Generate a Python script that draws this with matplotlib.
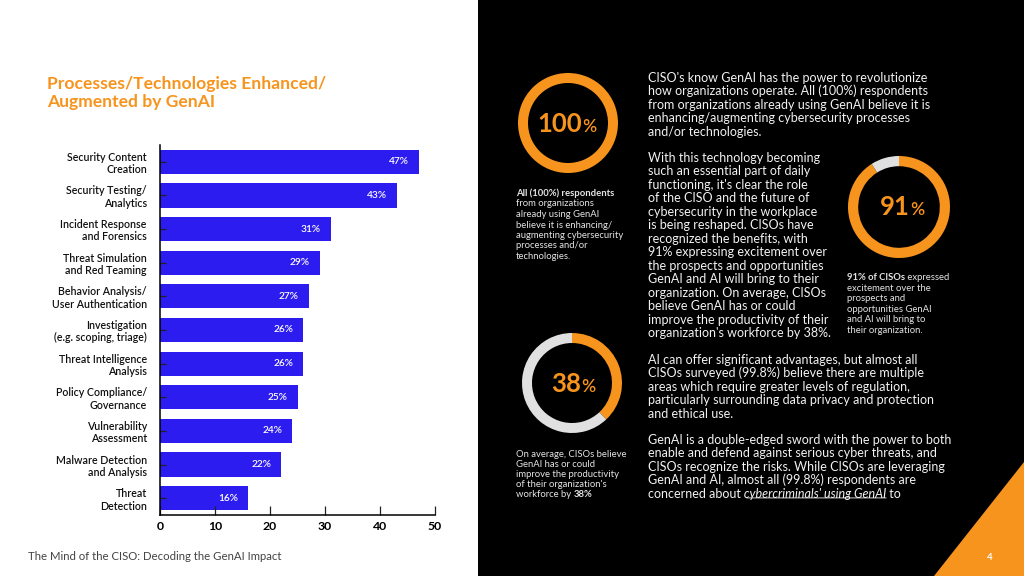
import matplotlib
matplotlib.use('Agg')
import matplotlib.pyplot as plt
from matplotlib.patches import Rectangle, Polygon

plt.rcParams['font.family'] = ['Lato', 'DejaVu Sans']

# データ
categories = ['Security Content\nCreation', 'Security Testing/\nAnalytics',
              'Incident Response\nand Forensics', 'Threat Simulation\nand Red Teaming',
              'Behavior Analysis/\nUser Authentication', 'Investigation\n(e.g. scoping, triage)',
              'Threat Intelligence\nAnalysis', 'Policy Compliance/\nGovernance',
              'Vulnerability\nAssessment', 'Malware Detection\nand Analysis', 'Threat\nDetection']
values = [47, 43, 31, 29, 27, 26, 26, 25, 24, 22, 16]
x_ticks = [0, 10, 20, 30, 40, 50]
donut_values = [100, 38, 91]

title = 'Processes/Technologies Enhanced/\nAugmented by GenAI'
footer = 'The Mind of the CISO: Decoding the GenAI Impact'
page_no = '4'

para1 = ["CISO's know GenAI has the power to revolutionize",
         "how organizations operate. All (100%) respondents",
         "from organizations already using GenAI believe it is",
         "enhancing/augmenting cybersecurity processes",
         "and/or technologies."]
para2 = ["With this technology becoming",
         "such an essential part of daily",
         "functioning, it's clear the role",
         "of the CISO and the future of",
         "cybersecurity in the workplace",
         "is being reshaped. CISOs have",
         "recognized the benefits, with",
         "91% expressing excitement over",
         "the prospects and opportunities",
         "GenAI and AI will bring to their",
         "organization. On average, CISOs",
         "believe GenAI has or could",
         "improve the productivity of their",
         "organization's workforce by 38%."]
para3 = ["AI can offer significant advantages, but almost all",
         "CISOs surveyed (99.8%) believe there are multiple",
         "areas which require greater levels of regulation,",
         "particularly surrounding data privacy and protection",
         "and ethical use."]
para4 = ["GenAI is a double-edged sword with the power to both",
         "enable and defend against serious cyber threats, and",
         "CISOs recognize the risks. While CISOs are leveraging",
         "GenAI and AI, almost all (99.8%) respondents are",
         [("concerned about", 'normal', 'normal', False),
          (" cybercriminals' using GenAI", 'normal', 'italic', True),
          (" to", 'normal', 'normal', False)]]
cap1 = [[("All (100%) respondents", 'bold', 'normal', False)],
        "from organizations", "already using GenAI", "believe it is enhancing/",
        "augmenting cybersecurity", "processes and/or", "technologies."]
cap2 = ["On average, CISOs believe", "GenAI has or could", "improve the productivity",
        "of their organization's",
        [("workforce by ", 'normal', 'normal', False), ("38%", 'bold', 'normal', False)]]
cap3 = [[("91% of CISOs", 'bold', 'normal', False), (" expressed", 'normal', 'normal', False)],
        "excitement over the", "prospects and", "opportunities GenAI",
        "and AI will bring to", "their organization."]

ORANGE = '#F7941D'
BLUE = '#2C1CF0'
GRAY = '#E0E0E0'
W, H = 1024, 576

fig = plt.figure(figsize=(W / 100, H / 100), dpi=100)
fig.patch.set_facecolor('white')

# 背景用のaxes（ピクセル座標）
bg = fig.add_axes([0, 0, 1, 1], zorder=0)
bg.set_xlim(0, W)
bg.set_ylim(H, 0)
bg.axis('off')
bg.add_patch(Rectangle((478, 0), W - 478, H, color='black', lw=0))
bg.add_patch(Polygon([(934, H), (W, H), (W, 462)], color=ORANGE, lw=0))

bg.text(47, 89, title.split('\n')[0], color=ORANGE, fontsize=12.6, fontweight='bold', va='baseline')
bg.text(47, 107, title.split('\n')[1], color=ORANGE, fontsize=12.6, fontweight='bold', va='baseline')
bg.text(28, 560, footer, color='#444444', fontsize=8.2, fontweight='normal', va='baseline')
bg.text(990, 560, page_no, color='white', fontsize=7, fontweight='bold', va='baseline', ha='center')


def draw_lines(lines, x, y0, step, size, color):
    for i, line in enumerate(lines):
        y = y0 + i * step
        if isinstance(line, str):
            bg.text(x, y, line, color=color, fontsize=size, fontweight='normal', va='baseline')
            continue
        prev = None
        for txt, wt, st, ul in line:
            if prev is None:
                t = bg.text(x, y, txt, color=color, fontsize=size, fontweight=wt,
                            fontstyle=st, va='baseline')
            else:
                t = bg.annotate(txt, xy=(1, 0), xycoords=prev, color=color, fontsize=size,
                                fontweight=wt, fontstyle=st, va='bottom', ha='left')
            if ul:
                bg.annotate('', xy=(0.04, 0.14), xycoords=t, xytext=(1, 0.14), textcoords=t,
                            arrowprops=dict(arrowstyle='-', color=color, lw=0.6,
                                            shrinkA=0, shrinkB=0))
            prev = t


TXT = '#F2F2F2'
draw_lines(para1, 648, 82, 13.45, 9.0, TXT)
draw_lines(para2, 648, 162, 13.46, 9.0, TXT)
draw_lines(para3, 648, 364, 13.4, 9.0, TXT)
draw_lines(para4, 648, 444, 13.4, 9.0, TXT)
draw_lines(cap1, 516, 196, 10.5, 6.8, '#E4E4E4')
draw_lines(cap2, 516, 457, 10.0, 6.8, '#E4E4E4')
draw_lines(cap3, 847, 280, 10.6, 6.8, '#E4E4E4')

# 棒グラフ
ax = fig.add_axes([160 / W, 1 - 515 / H, 275 / W, 370 / H], zorder=2)
ax.set_facecolor('none')
ypos = list(range(len(values)))
ax.barh(ypos, values, height=0.72, color=BLUE)
for y, v in zip(ypos, values):
    ax.annotate(f'{v}%', (v, y), xytext=(-10, 0), textcoords='offset pixels',
                ha='right', va='center', color='white', fontsize=7.3, fontweight='semibold')
ax.set_ylim(len(values) - 0.5, -0.5)
ax.set_xlim(x_ticks[0], x_ticks[-1])
ax.set_xticks(x_ticks)
ax.set_yticks(ypos)
ax.set_yticklabels(categories, fontsize=7.7, fontweight='semibold', color='#111111',
                   linespacing=1.15)
ax.tick_params(axis='y', direction='in', length=4.5, width=0.9, pad=9.5, color='#222222')
ax.tick_params(axis='x', direction='in', length=6.5, width=0.9, pad=4, labelsize=8.8,
               color='#222222')
for lb in ax.get_xticklabels():
    lb.set_fontweight('bold')
for s in ['top', 'right']:
    ax.spines[s].set_visible(False)
for s in ['left', 'bottom']:
    ax.spines[s].set_linewidth(1.1)
    ax.spines[s].set_color('black')


# ドーナツ
def donut(cx, cy, r, val, num_right, base):
    a = fig.add_axes([(cx - r) / W, 1 - (cy + r) / H, 2 * r / W, 2 * r / H], zorder=2)
    a.pie([val, 100 - val], colors=[ORANGE, GRAY], startangle=90, counterclock=False,
          radius=1, wedgeprops=dict(width=0.2, linewidth=0))
    a.set_xlim(-1, 1)
    a.set_ylim(-1, 1)
    a.axis('off')
    bg.text(num_right, base, f'{val}', color=ORANGE, fontsize=18.5, fontweight='bold',
            ha='right', va='baseline')
    bg.text(num_right + 0.5, base, '%', color=ORANGE, fontsize=12.5, fontweight='semibold',
            ha='left', va='baseline')


donut(568, 123, 50, donut_values[0], 582, 132)
donut(572, 383, 50, donut_values[1], 581, 392)
donut(899, 207, 51, donut_values[2], 910, 215)

fig.savefig('out.png', dpi=100, facecolor=fig.get_facecolor())
